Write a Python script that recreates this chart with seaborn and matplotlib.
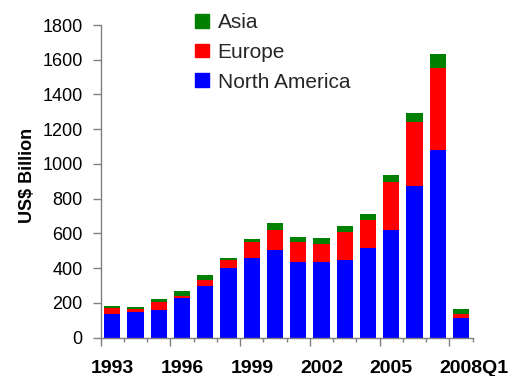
import matplotlib
matplotlib.use("Agg")
import matplotlib.pyplot as plt
import matplotlib.transforms as mtransforms
from matplotlib.patches import Patch
import numpy as np
import pandas as pd
import seaborn as sns

# Investment by region, US$ billion
periods = ["1993", "1994", "1995", "1996", "1997", "1998", "1999", "2000",
           "2001", "2002", "2003", "2004", "2005", "2006", "2007", "2008Q1"]
north_america = [138, 150, 161, 230, 299, 402, 460, 506,
                 437, 437, 449, 518, 621, 874, 1081, 115]
europe = [33, 13, 46, 11, 35, 46, 92, 115,
          115, 103, 160, 160, 276, 368, 472, 23]
asia = [13, 15, 15, 27, 26, 12, 15, 40,
        27, 33, 33, 33, 38, 50, 78, 27]
shown_labels = ["1993", "1996", "1999", "2002", "2005", "2008Q1"]

GREEN, RED, BLUE, GREY = "#008000", "#FF0000", "#0000FF", "#808080"

sns.set_theme(style="white")
plt.rcParams["font.family"] = ["Liberation Sans", "DejaVu Sans"]

df = pd.DataFrame({"period": periods, "North America": north_america,
                   "Europe": europe, "Asia": asia})
df["na_eu"] = df["North America"] + df["Europe"]
df["total"] = df["na_eu"] + df["Asia"]

fig = plt.figure(figsize=(5.12, 3.76), dpi=100)
ax = fig.add_axes([0.1967, 0.1019, 0.7266, 0.8316])

# Stack by overlaying cumulative totals, tallest first
for col, colour in [("total", GREEN), ("na_eu", RED), ("North America", BLUE)]:
    sns.barplot(data=df, x="period", y=col, order=periods, color=colour,
                saturation=1, width=0.7, errorbar=None, linewidth=0, ax=ax)

ax.set_xlim(-0.5, len(periods) - 0.5)
ax.set_ylim(0, 1800)
ax.set_yticks(range(0, 1801, 200))
ax.set_xlabel("")

for side in ("top", "right"):
    ax.spines[side].set_visible(False)
for side in ("left", "bottom"):
    ax.spines[side].set_color(GREY)
    ax.spines[side].set_linewidth(1.0)

# Boundary ticks: long every third category, short in between
bounds = np.arange(-0.5, len(periods), 1.0)
long_bounds = bounds[::3]
short_bounds = [b for b in bounds if b not in set(long_bounds)]
ax.set_xticks(long_bounds)
ax.set_xticklabels([])
ax.set_xticks(short_bounds, minor=True)
ax.tick_params(axis="x", which="major", bottom=True, length=5.5, width=1, color=GREY)
ax.tick_params(axis="x", which="minor", bottom=True, length=3, width=1, color=GREY)
ax.tick_params(axis="y", left=True, length=6, width=1, color=GREY, pad=7,
               labelsize=13, labelcolor="black")

# Category labels centred under the bars
sec = ax.secondary_xaxis("bottom")
sec.set_xticks([periods.index(p) for p in shown_labels])
sec.set_xticklabels(shown_labels, fontsize=14, fontweight="bold", color="black")
sec.tick_params(length=0, pad=16)
sec.spines["bottom"].set_visible(False)
last = sec.get_xticklabels()[-1]
last.set_transform(last.get_transform() +
                   mtransforms.ScaledTranslation(0.13, 0, fig.dpi_scale_trans))

ax.set_ylabel("US$ Billion", fontsize=13, fontweight="bold", color="black")
ax.yaxis.set_label_coords(-0.174, 0.52)

handles = [Patch(color=GREEN, label="Asia"),
           Patch(color=RED, label="Europe"),
           Patch(color=BLUE, label="North America")]
ax.legend(handles=handles, loc="upper left",
          bbox_to_anchor=(195 / 512, 1 - 13 / 376), bbox_transform=fig.transFigure,
          frameon=False, fontsize=15, handlelength=0.68, handleheight=0.65,
          handletextpad=0.4, labelspacing=0.52, borderpad=0, borderaxespad=0)

fig.savefig("out.png", dpi=100)
